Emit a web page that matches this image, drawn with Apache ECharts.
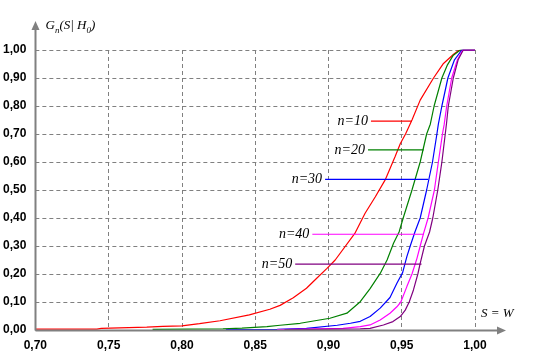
<!DOCTYPE html>
<html><head><meta charset="utf-8">
<script src="https://cdn.jsdelivr.net/npm/echarts@6/dist/echarts.min.js"></script>
<style>html,body{margin:0;padding:0;background:#fff}#c{width:540px;height:360px}</style>
</head><body><div id="c"></div>
<script>
var seriesNames = ['n=10','n=20','n=30','n=40','n=50'];
var seriesColors = ['#ff0000','#008000','#0000ff','#ff00ff','#800080'];
var xTicks = [0.70,0.75,0.80,0.85,0.90,0.95,1.00];
var yTicks = [0,0.1,0.2,0.3,0.4,0.5,0.6,0.7,0.8,0.9,1.0];
var n10 = [[0.70,0.003],[0.742,0.003],[0.745,0.006],[0.776,0.010],[0.787,0.013],[0.80,0.015],[0.812,0.023],[0.826,0.033],[0.846,0.054],[0.860,0.074],[0.867,0.088],[0.876,0.115],[0.885,0.149],[0.892,0.185],[0.899,0.22],[0.9046,0.25],[0.918,0.345],[0.925,0.417],[0.932,0.476],[0.9387,0.536],[0.9455,0.62],[0.949,0.665],[0.9526,0.70],[0.957,0.75],[0.9626,0.821],[0.9717,0.90],[0.9785,0.952],[0.9854,0.985],[0.9888,0.998],[1.0,1.0]];
var n20 = [[0.78,0.002],[0.828,0.004],[0.841,0.007],[0.858,0.012],[0.867,0.017],[0.8807,0.024],[0.901,0.042],[0.9126,0.06],[0.9217,0.101],[0.9284,0.148],[0.9353,0.202],[0.94,0.25],[0.9444,0.31],[0.9482,0.35],[0.951,0.40],[0.957,0.50],[0.9626,0.60],[0.967,0.70],[0.9695,0.735],[0.9721,0.80],[0.9774,0.90],[0.981,0.945],[0.985,0.98],[0.990,1.0],[1.0,1.0]];
var n30 = [[0.83,0.001],[0.865,0.002],[0.885,0.006],[0.906,0.017],[0.915,0.024],[0.9217,0.031],[0.9284,0.048],[0.9353,0.078],[0.942,0.116],[0.9467,0.167],[0.9506,0.205],[0.9535,0.262],[0.9558,0.30],[0.959,0.35],[0.9626,0.40],[0.967,0.50],[0.971,0.60],[0.974,0.70],[0.975,0.735],[0.9774,0.80],[0.9815,0.90],[0.986,0.965],[0.991,1.0],[1.0,1.0]];
var n40 = [[0.865,0.001],[0.91,0.006],[0.9217,0.012],[0.9284,0.018],[0.9353,0.036],[0.942,0.06],[0.9467,0.083],[0.9494,0.10],[0.9535,0.155],[0.957,0.20],[0.9604,0.256],[0.9626,0.30],[0.9649,0.345],[0.968,0.40],[0.9723,0.50],[0.975,0.60],[0.9778,0.70],[0.979,0.735],[0.9807,0.80],[0.9841,0.90],[0.988,0.965],[0.9917,1.0],[1.0,1.0]];
var n50 = [[0.87,0.001],[0.9217,0.004],[0.9284,0.006],[0.9375,0.018],[0.944,0.03],[0.949,0.048],[0.9524,0.071],[0.9551,0.10],[0.958,0.143],[0.961,0.20],[0.9626,0.238],[0.9655,0.30],[0.969,0.35],[0.9712,0.40],[0.9746,0.50],[0.9774,0.60],[0.9797,0.70],[0.9805,0.735],[0.9818,0.80],[0.9852,0.90],[0.9885,0.965],[0.992,1.0],[1.0,1.0]];
var curves = [n10,n20,n30,n40,n50];
// leader lines for labels: [xStart, xEnd, y]
var leaders = [[0.929,0.957,0.746],[0.927,0.965,0.643],[0.8977,0.968,0.538],[0.889,0.965,0.342],[0.8773,0.9635,0.235]];

function fmt(v){ return v.toFixed(2).replace('.', ','); }
var chart = echarts.init(document.getElementById('c'), null, {renderer:'canvas'});
var series = [];
curves.forEach(function(d,i){
  series.push({type:'line', data:d, showSymbol:false, symbol:'none', lineStyle:{color:seriesColors[i], width:1.2}, z:3});
});
leaders.forEach(function(l,i){
  series.push({type:'line', data:[[l[0],l[2]],[l[1],l[2]]], symbol:'none',
    lineStyle:{color:seriesColors[i], width:1.2}, z:4,
    markPoint:{symbol:'circle', symbolSize:0, data:[{coord:[l[0],l[2]], value:seriesNames[i]}],
      label:{show:true, position:'left', distance:3, formatter:seriesNames[i], color:'#000', fontFamily:'Liberation Serif', fontStyle:'italic', fontSize:14}}
  });
});
var option = {
  animation:false,
  backgroundColor:'#fff',
  grid:{left:35, right:65, top:50, bottom:30},
  xAxis:{type:'value', min:0.70, max:1.00, interval:0.05,
    axisLine:{show:false}, axisTick:{show:false},
    axisLabel:{formatter:fmt, color:'#000', fontWeight:'bold', fontSize:12, fontFamily:'Liberation Sans', margin:10},
    splitLine:{show:true, lineStyle:{color:'#808080', type:[4,3], width:1}}},
  yAxis:{type:'value', min:0, max:1.0, interval:0.1,
    axisLine:{show:false}, axisTick:{show:false},
    axisLabel:{formatter:fmt, color:'#000', fontWeight:'bold', fontSize:12, fontFamily:'Liberation Sans', margin:9},
    splitLine:{show:true, lineStyle:{color:'#808080', type:[4,3], width:1}}},
  series:series
};
chart.setOption(option);
var o = chart.convertToPixel({gridIndex:0},[0.70,0]);
var xe = chart.convertToPixel({gridIndex:0},[1.00,1.0]);
var ax = Math.round(o[0])+0.5, ay = Math.round(o[1])+0.5;
var xEnd = xe[0]+31, yEnd = xe[1]-29;
chart.setOption({graphic:[
  {type:'line', shape:{x1:ax,y1:ay,x2:xEnd-6,y2:ay}, style:{stroke:'#808080', lineWidth:2}, z:10},
  {type:'polygon', shape:{points:[[xEnd,ay],[xEnd-9,ay-4],[xEnd-9,ay+4]]}, style:{fill:'#808080'}, z:10},
  {type:'line', shape:{x1:ax,y1:ay,x2:ax,y2:yEnd+6}, style:{stroke:'#808080', lineWidth:2}, z:10},
  {type:'polygon', shape:{points:[[ax,yEnd],[ax-4,yEnd+9],[ax+4,yEnd+9]]}, style:{fill:'#808080'}, z:10},
  {type:'text', left:ax+10, top:yEnd-2, z:10, style:{
    text:'{m|G}{s|n}{m|(S| H}{s|0}{m|)}',
    rich:{m:{fontFamily:'Liberation Serif', fontStyle:'italic', fontSize:13, color:'#000', lineHeight:16, verticalAlign:'top'},
          s:{fontFamily:'Liberation Serif', fontStyle:'italic', fontSize:9, color:'#000', lineHeight:16, verticalAlign:'bottom', padding:[6,0,0,0]}}}},
  {type:'text', left:xe[0]+6, top:ay-23, z:10, style:{text:'S = W', fontFamily:'Liberation Serif', fontStyle:'italic', fontSize:13, fill:'#000'}}
]});
</script></body></html>
